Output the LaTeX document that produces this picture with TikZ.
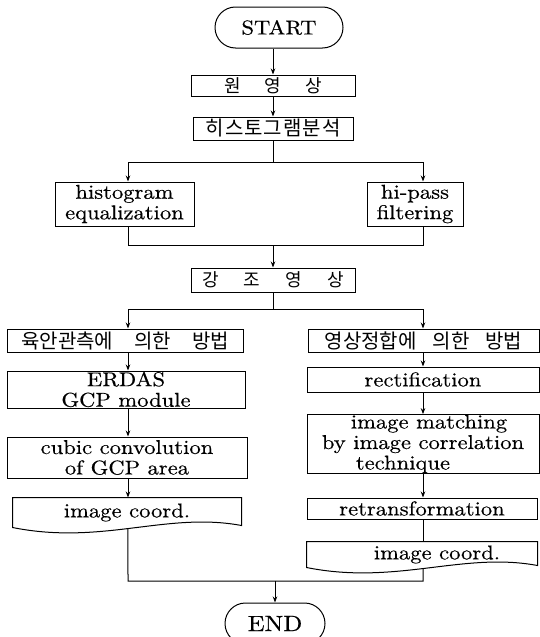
\documentclass[tikz,border=0pt]{standalone}
\usepackage{fontspec}
\setmainfont{lmroman10-regular.otf}[FakeStretch=1.13,FakeBold=0.4]
\newfontfamily\kr{Noto Sans CJK KR}
\usetikzlibrary{arrows.meta,shapes.misc,intersections}

% text sizes
\newcommand\lat{\fontsize{20}{20.5}\selectfont}
\newcommand\krA{\kr\fontsize{18}{18}\selectfont}
\newcommand\krB{\kr\fontsize{20}{20}\selectfont}

% document symbol: straight top and sides, wavy bottom
\newcommand\docoutline[2]{%
  \draw[name path=#2] (#1.north west) -- (#1.north east) -- ([yshift=2pt]#1.south east)
    .. controls +(-75pt,14pt) and +(90pt,-18pt) .. (#1.south west) -- cycle;}

\begin{document}
\begin{tikzpicture}[x=1pt,y=-1pt,line width=1pt,
  box/.style={draw,rectangle,inner sep=0pt,font=\lat,align=center},
  term/.style={draw,rounded rectangle,inner sep=0pt,font=\lat},
  doc/.style={rectangle,inner sep=0pt,font=\lat},
  arr/.style={-{Stealth[length=6pt,width=4.5pt]}}]
\useasboundingbox (0,0) rectangle (540,637);

% ---- upper part
\node[term,minimum width=128pt,minimum height=41pt] (start) at (279,27.5)
  {\raisebox{-2pt}{START}\hspace{10pt}};
\node[box,font=\krA,minimum width=164pt,minimum height=21pt] (won) at (273,85.5)
  {원\hspace{24pt}영\hspace{24pt}상};
\node[box,font=\krB,minimum width=160pt,minimum height=23pt] (hist) at (273,128.5)
  {히\hspace{1pt}스\hspace{1pt}토\hspace{1pt}그\hspace{1pt}램\hspace{1pt}분\hspace{1pt}석};
\node[box,minimum width=139pt,minimum height=44pt] (heq) at (124.5,204)
  {histogram\\equalization};
\node[box,minimum width=96pt,minimum height=44pt] (hp) at (415,204)
  {hi-pass\\filtering};
\node[box,font=\krA,minimum width=164pt,minimum height=24pt] (gang) at (273,280)
  {강\hspace{25pt}조\hspace{25pt}영\hspace{25pt}상};

% ---- left branch
\node[box,font=\krB,minimum width=236pt,minimum height=23pt] (m1) at (125,340.5)
  {육안관측에\hspace{21pt}의한\hspace{21pt}방법};
\node[box,minimum width=238pt,minimum height=37pt] (erdas) at (126,389.5)
  {ERDAS\\GCP module};
\node[box,minimum width=240pt,minimum height=41pt] (cubic) at (127,457.5)
  {cubic convolution\\of GCP area};
\node[doc,minimum width=228pt,minimum height=29pt] (ld) at (127,512.5)
  {\raisebox{3pt}{image coord.}};
\docoutline{ld}{ldo}

% ---- right branch
\node[box,font=\krB,minimum width=231pt,minimum height=23pt] (m2) at (423.5,340.5)
  {영상정합에\hspace{16pt}의한\hspace{16pt}방법};
\node[box,minimum width=232pt,minimum height=25pt] (rect) at (423,379.5)
  {rectification};
\node[box,align=left,minimum width=232pt,minimum height=58pt] (match) at (423,444)
  {\hspace*{29pt}image matching\\by image correlation\\\hspace*{34pt}technique};
\node[box,minimum width=230pt,minimum height=21pt] (retr) at (422,508.5)
  {retransformation};
\node[doc,minimum width=230pt,minimum height=25pt] (rd) at (422,554.5)
  {\hspace{30pt}\raisebox{2pt}{image coord.}};
\docoutline{rd}{rdo}

\node[term,minimum width=100pt,minimum height=41pt,font=\fontsize{22}{24}\selectfont]
  (endn) at (275,623.5) {END\hspace{6pt}};

% ---- branch and join points
\coordinate (bL) at (128,162);  \coordinate (bR) at (423,162);
\coordinate (jL) at (128,245);  \coordinate (jR) at (423,245);
\coordinate (cL) at (128,309);  \coordinate (cR) at (423,309);
\coordinate (eL) at (128,581);  \coordinate (eR) at (423,581);

% ---- connectors
\draw[arr] (start.south -| won.north) -- (won.north);
\draw[arr] (won.south) -- (won.south |- hist.north);

\draw (hist.south) -- (hist.south |- bL);
\draw (bL) -- (bR);
\draw[arr] (bL) -- (bL |- heq.north);
\draw[arr] (bR) -- (bR |- hp.north);

\draw (heq.south -| jL) -- (jL) -- (jR) -- (hp.south -| jR);
\draw[arr] (gang.north |- jL) -- (gang.north);

\draw (gang.south) -- (gang.south |- cL);
\draw (cL) -- (cR);
\draw[arr] (cL) -- (cL |- m1.north);
\draw[arr] (cR) -- (cR |- m2.north);

\draw[arr] (m1.south -| cL) -- (erdas.north -| cL);
\draw[arr] (erdas.south -| cL) -- (cubic.north -| cL);
\draw[arr] (cubic.south -| cL) -- (ld.north -| cL);

\draw[arr] (m2.south -| cR) -- (rect.north -| cR);
\draw[arr] (rect.south -| cR) -- (match.north -| cR);
\draw[arr] (match.south -| cR) -- (retr.north -| cR);
\draw (retr.south -| cR) -- (rd.north -| cR);

% bottoms of the wavy edges where the join lines leave them
\path[name path=ldcut] (eL) -- (eL |- ld.center);
\path[name path=rdcut] (eR) -- (eR |- rd.center);
\path[name intersections={of=ldo and ldcut,by=ldb}];
\path[name intersections={of=rdo and rdcut,by=rdb}];

\draw (ldb) -- (eL) -- (eR) -- (rdb);
\draw[arr] (endn.north |- eL) -- (endn.north);
\end{tikzpicture}
\end{document}
